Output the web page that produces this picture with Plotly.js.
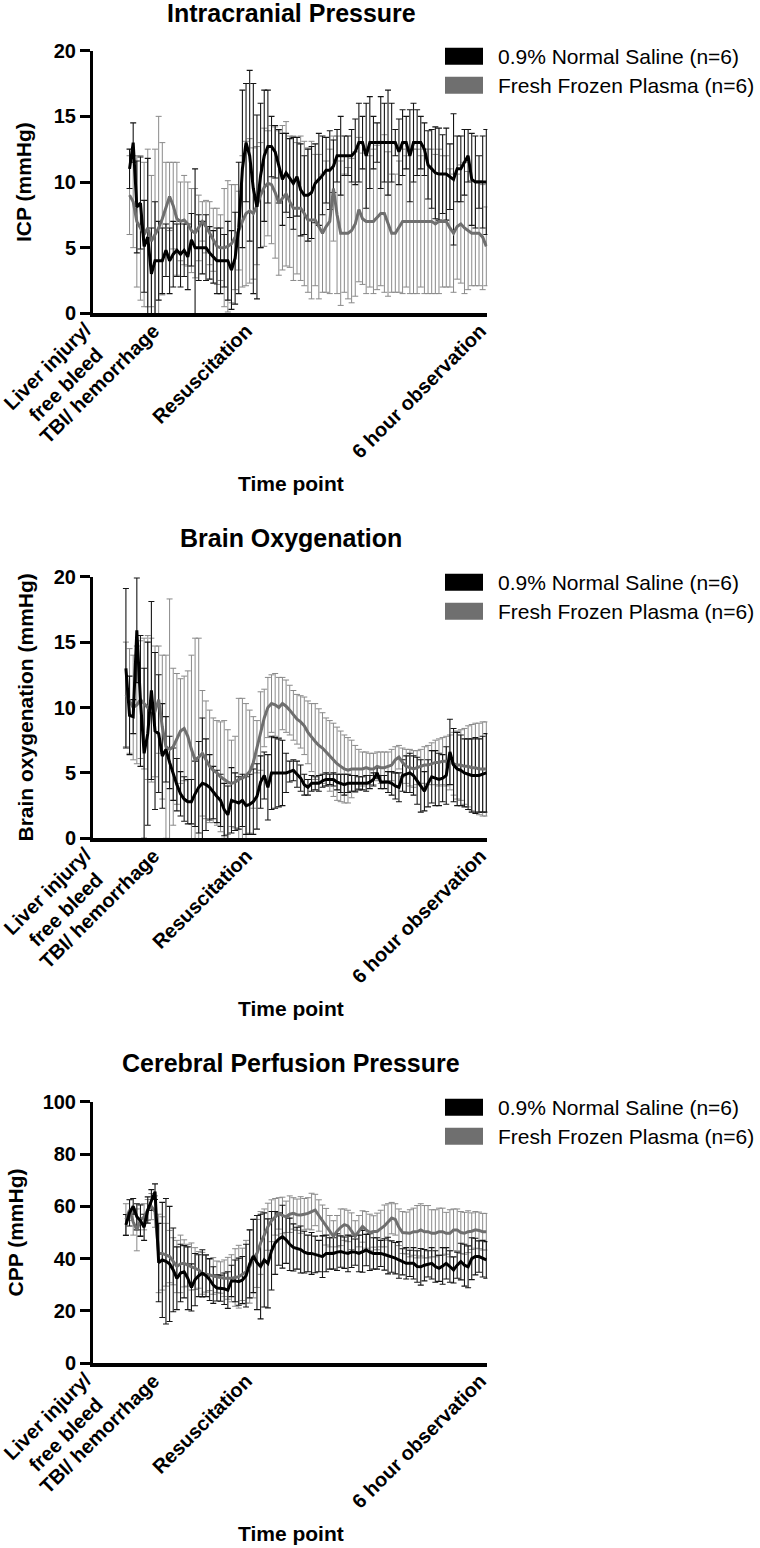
<!DOCTYPE html>
<html>
<head>
<meta charset="utf-8">
<script src="https://cdn.plot.ly/plotly-3.0.1.min.js"></script>
<style>body{margin:0;background:#fff}</style>
</head>
<body>
<div id="chart" style="width:760px;height:1548px"></div>
<script>
// time point index (one sample per step)
var timeIdx = [0,1,2,3,4,5,6,7,8,9,10,11,12,13,14,15,16,17,18,19,20,21,22,23,24,25,26,27,28,29,
  30,31,32,33,34,35,36,37,38,39,40,41,42,43,44,45,46,47,48,49,50,51,52,53,54,55,56,57,58,59,
  60,61,62,63,64,65,66,67,68,69,70,71,72,73,74,75,76,77,78,79,80,81,82,83,84,85,86,87,88,89,
  90,91,92,93,94,95,96,97,98,99];

var tickPos = [-8, 9.5, 35, 99.3];
var tickLabels = ['Liver injury/<br>free bleed', 'TBI/ hemorrhage', 'Resuscitation', '6 hour observation'];
var seriesNames = ['0.9% Normal Saline (n=6)', 'Fresh Frozen Plasma (n=6)'];

// Intracranial pressure (mmHg)
var icpNsMean = [null,11,13,8.1,8.4,5.1,5.8,3.0,4.0,4.0,4.0,4.8,4.0,4.5,4.8,4.5,4.8,4.3,5.6,5.0,
  5.0,5.0,5.0,4.6,4.3,4.0,4.0,4.0,4.0,3.3,4.2,6.5,11,13,12,9.5,8.1,10.5,12,12.7,
  12.7,12.3,11.2,10.2,10.7,10.3,9.9,10.4,9.4,9.0,9.0,9.2,9.9,10.2,10.5,10.9,10.9,11.2,12,12,
  12,12,12,12.3,13,13,12,13,13,13,13,13,13,13,13,12.3,13,13,12,13,
  13,13,12.5,11.3,11,10.7,10.6,10.6,10.6,10.4,10.2,11,11,11.5,12,10.2,10,10,10,10];
var icpNsSd = [null,1.5,1.5,3.5,3.5,3.5,6,3.5,4.5,3.0,2.5,2.0,2.5,2.5,2.0,2.5,2.0,2.5,2.0,6.0,
  2.5,2.0,2.5,2.0,2.0,2.5,2.5,2.0,3.0,3.0,3.5,5.0,6.0,4.5,6.5,8.0,7.0,5.5,5.0,4.3,
  2.3,2.0,2.8,3.5,3.0,3.0,3.5,3.0,3.5,3.0,3.5,3.5,3.0,3.5,3.0,2.5,3.0,2.0,2.0,3.0,
  1.5,1.5,2.0,2.5,3.0,2.0,4.0,3.5,2.0,1.5,3.5,3.0,4.0,3.0,1.0,2.5,2.5,2.0,3.5,3.0,
  2.5,2.0,2.0,2.6,3.0,3.5,3.5,3.0,3.5,2.5,5.0,2.5,2.5,2.5,2.0,3.5,3.5,2.0,3.5,4.0];
var icpFfpMean = [null,9.0,8.5,7.0,6.5,6.0,6.5,5.5,6.0,6.5,7.2,8.0,8.9,8.2,7.2,7.0,7.1,6.8,6.3,6.1,
  6.5,7.0,6.6,6.1,5.6,5.1,5.0,5.0,5.1,5.3,5.8,6.3,7.0,7.6,7.8,7.6,8.2,9.0,9.6,9.9,
  9.8,9.2,8.4,8.8,9.1,8.5,8.0,8.0,8.0,7.6,7.1,7.1,7.1,6.6,6.1,6.6,7.0,9.5,7.5,6.1,
  6.1,6.1,6.3,6.8,7.9,7.2,7.0,7.0,7.0,7.3,7.6,7.6,6.8,6.1,6.1,6.6,7.0,7.0,7.0,7.0,
  7.0,7.0,7.0,7.0,7.0,6.8,7.0,7.0,7.0,6.5,6.1,6.6,6.8,6.5,6.3,6.1,6.1,6.1,5.8,5.1];
var icpFfpSd = [null,3.0,3.5,5.0,5.5,5.5,6.0,5.0,6.5,8.5,5.8,3.5,2.6,3.3,4.3,3.0,3.4,3.2,3.2,3.4,
  2.5,1.5,2.0,2.4,2.4,2.9,2.5,4.5,5.0,4.5,4.0,3.0,5.0,5.5,5.5,5.0,4.5,4.0,4.5,4.0,
  4.5,5.0,5.5,5.5,5.5,5.0,5.5,5.0,5.5,5.5,5.5,6.0,5.0,5.5,4.5,5.0,5.5,4.0,6.0,5.5,
  4.5,5.0,5.5,5.5,5.5,5.0,5.5,5.0,5.5,5.5,5.5,6.0,5.5,4.5,4.5,5.0,5.5,5.0,5.5,5.5,
  5.5,5.0,5.5,5.5,5.5,5.3,5.5,5.0,5.0,4.5,4.5,4.0,4.5,5.0,4.5,4.0,4.0,4.0,4.0,3.0];

// Brain oxygenation (mmHg)
var boNsMean = [13.0,9.4,9.3,15.9,10.5,6.5,8.0,11.3,8.2,8.0,6.3,6.8,5.8,4.9,4.1,3.4,3.0,2.8,2.8,3.4,
  3.9,4.2,4.1,3.9,3.5,3.2,2.9,2.2,1.8,2.9,2.8,2.7,2.9,2.5,2.6,2.8,3.2,4.3,4.8,3.9,
  5.0,5.0,5.0,5.0,5.0,5.1,5.2,4.9,4.6,4.1,3.9,4.2,4.2,4.2,4.4,4.5,4.5,4.5,4.3,4.2,
  4.1,4.2,4.2,4.2,4.2,4.2,4.2,4.3,4.5,5.0,4.3,4.3,4.3,4.2,4.0,3.9,4.8,4.9,5.0,4.8,
  4.4,4.0,3.6,4.2,4.7,4.6,4.5,4.6,4.8,6.6,5.6,5.3,5.2,5.0,4.9,4.8,4.8,4.8,4.9,5.0];
var boNsSd = [6.1,3.0,1.3,4.0,5.0,6.5,7.0,6.8,6.0,4.5,4.0,2.5,2.0,2.0,2.0,1.7,1.7,1.7,1.7,2.5,
  3.5,5.0,3.5,2.5,2.0,2.0,2.0,2.0,2.2,2.5,2.2,2.0,2.0,2.2,2.3,2.5,2.5,2.0,1.8,2.5,
  2.8,2.7,2.6,2.5,1.5,0.8,0.8,1.0,1.0,0.8,0.6,0.6,0.5,0.6,0.5,0.5,0.4,0.5,0.6,0.7,
  0.8,0.7,0.6,0.6,0.5,0.5,0.6,0.5,0.5,0.4,0.5,0.5,0.8,0.9,1.0,1.1,1.2,1.4,1.5,1.5,
  1.8,2.0,1.5,1.8,2.0,2.1,2.0,1.8,2.2,2.5,2.8,2.8,2.7,2.6,2.7,2.8,2.9,2.8,2.9,3.0];
var boFfpMean = [11.0,10.5,10.0,10.2,10.6,10.3,10.0,9.8,9.7,10.6,8.5,7.0,6.8,7.0,7.6,8.2,8.4,7.8,6.8,6.0,
  6.2,6.5,6.0,5.5,5.2,5.0,4.7,4.5,4.3,4.2,4.3,4.5,4.6,4.8,5.1,5.8,7.0,8.2,9.2,10.0,
  10.3,10.2,10.0,10.3,10.1,9.8,9.4,9.1,8.9,8.6,8.1,7.7,7.4,7.1,6.9,6.6,6.3,6.0,5.7,5.5,
  5.3,5.2,5.3,5.3,5.3,5.3,5.4,5.3,5.3,5.5,5.4,5.4,5.5,5.6,6.0,6.2,5.8,5.5,5.4,5.3,
  5.4,5.5,5.6,5.6,5.7,5.8,5.8,5.9,5.9,5.8,5.7,5.6,5.6,5.5,5.5,5.4,5.4,5.3,5.3,5.3];
var boFfpSd = [4.0,4.0,4.0,4.5,4.5,5.0,5.5,5.5,5.0,4.1,5.5,7.0,11.5,6.0,5.0,4.0,4.0,5.0,7.2,9.3,
  9.1,4.8,4.5,4.3,4.0,4.0,4.2,4.5,4.0,3.3,3.5,6.2,6.1,5.5,4.7,3.5,2.0,3.0,2.2,2.3,
  2.2,2.4,2.3,2.0,2.0,1.9,1.9,1.9,2.0,2.2,2.4,2.6,2.9,2.8,2.7,2.6,2.7,2.8,2.8,2.7,
  2.6,2.5,2.2,1.8,1.5,1.3,1.2,1.2,1.2,1.1,1.2,1.2,1.1,1.2,1.0,0.9,1.1,1.3,1.4,1.4,
  1.3,1.3,1.4,1.5,1.6,1.7,1.8,1.8,1.9,2.1,2.4,2.6,2.7,2.9,3.1,3.3,3.4,3.5,3.6,3.6];

// Cerebral perfusion pressure (mmHg)
var cppNsMean = [52.9,57.5,60.0,56.0,54.5,52.0,58.6,62.4,65.6,38.5,39.5,39.0,38.0,35.7,32.5,34.5,35.0,32.5,29.0,32.0,
  33.5,34.4,33.5,32.0,29.9,28.8,28.7,28.5,28.0,31.5,31.5,31.2,31.8,33.5,38.0,41.0,38.5,37.0,39.5,38.2,
  43.0,46.0,47.5,48.4,47.2,45.5,44.3,44.0,43.5,42.5,42.0,42.0,41.6,41.0,40.8,42.0,42.0,42.0,42.5,42.7,
  42.3,42.0,42.6,42.5,42.0,42.8,43.3,42.5,42.0,42.0,42.0,41.6,41.2,40.8,40.2,39.5,38.8,38.2,38.2,38.2,
  37.0,36.9,37.5,38.0,38.2,37.0,36.3,37.2,38.2,37.0,35.7,37.5,38.9,37.5,36.9,40.0,40.8,40.8,40.0,39.5];
var cppNsSd = [4,5,3,5,6,5,5,4,3,15,22,24,22,16,12,11,10,12,9,10,
  8,9,8,8,7,5,5,6,7,6,8,9,9,12,13,14,18,20,18,17,
  15,12,10,12,9,10,9,8,9,8,7,8,7,6,8,7,6,6,7,6,
  6,7,6,5,7,8,6,7,6,6,5,6,7,6,6,7,5,6,5,6,
  6,7,6,5,6,6,5,7,6,6,5,5,7,8,8,8,7,6,7,7];
var cppFfpMean = [55.0,58.6,54.0,51.0,54.8,56.0,58.6,59.9,58.0,42.0,42.0,41.5,40.8,39.0,37.0,38.0,38.2,37.5,37.0,36.2,
  35.7,34.4,34.2,33.8,33.4,33.1,32.8,32.5,32.5,32.5,32.8,33.1,34.0,35.0,37.0,40.0,42.0,46.0,49.0,52.2,
  54.5,56.0,57.3,56.5,56.0,57.0,57.3,56.8,56.7,57.0,57.3,58.0,58.6,56.5,54.5,52.2,50.5,48.5,50.5,52.0,
  53.0,52.5,50.5,48.5,50.5,52.3,51.0,50.0,50.4,50.4,51.5,52.5,54.0,55.5,55.0,52.0,50.0,49.8,49.7,50.3,
  50.3,51.0,50.3,50.3,49.7,49.7,50.3,50.3,49.7,49.7,51.0,51.0,50.0,49.7,50.3,50.5,51.0,50.8,50.3,50.3];
var cppFfpSd = [6,4,5,8,6,5,4,5,6,15,14,12,10,9,10,11,9,8,9,8,
  7,8,7,6,7,6,6,7,8,9,11,12,10,12,14,15,13,12,10,9,
  8,7,6,7,6,7,6,6,7,6,6,7,6,6,6,7,6,6,6,7,
  6,6,7,6,6,6,7,7,6,7,7,8,7,6,6,7,8,8,9,9,
  10,10,10,10,9,9,9,9,8,9,8,8,8,8,8,7,7,7,7,7];

var W = 760, H = 1548;
function fx(p) { return p / W; }
function fy(p) { return 1 - p / H; }

var FONT = 'Liberation Sans, Arial, Helvetica, sans-serif';
var NS_COLOR = '#000000', FFP_COLOR = '#6f6f6f';
var boldFont = function (s) { return {family: FONT, size: s, weight: 'bold', color: '#000'}; };

var panels = [
  {title: 'Intracranial Pressure', ytitle: 'ICP (mmHg)', top: 50.7, bottom: 313.3, titleY: 13, ytitleX: 23,
   ymax: 20, yticks: [0, 5, 10, 15, 20],
   ns: icpNsMean, nsSd: icpNsSd, ffp: icpFfpMean, ffpSd: icpFfpSd},
  {title: 'Brain Oxygenation', ytitle: 'Brain oxygenation (mmHg)', top: 576.7, bottom: 838.3, titleY: 538, ytitleX: 25,
   ymax: 20, yticks: [0, 5, 10, 15, 20],
   ns: boNsMean, nsSd: boNsSd, ffp: boFfpMean, ffpSd: boFfpSd},
  {title: 'Cerebral Perfusion Pressure', ytitle: 'CPP (mmHg)', top: 1101.7, bottom: 1363.3, titleY: 1063, ytitleX: 15,
   ymax: 100, yticks: [0, 20, 40, 60, 80, 100],
   ns: cppNsMean, nsSd: cppNsSd, ffp: cppFfpMean, ffpSd: cppFfpSd}
];

var data = [];
var layout = {
  width: W, height: H,
  margin: {l: 0, r: 0, t: 0, b: 0},
  paper_bgcolor: '#fff', plot_bgcolor: '#fff',
  showlegend: false,
  font: {family: FONT, color: '#000'},
  annotations: [], shapes: []
};

panels.forEach(function (p, k) {
  var n = k === 0 ? '' : String(k + 1);
  var xa = 'x' + n, ya = 'y' + n;

  // error bars first (gray under black), mean lines on top
  data.push({x: timeIdx, y: p.ffp, xaxis: xa, yaxis: ya, type: 'scatter', mode: 'markers',
    marker: {size: 1, color: 'rgba(0,0,0,0)'}, hoverinfo: 'skip',
    error_y: {type: 'data', array: p.ffpSd, visible: true, color: '#8a8a8a', thickness: 1, width: 3}});
  data.push({x: timeIdx, y: p.ns, xaxis: xa, yaxis: ya, type: 'scatter', mode: 'markers',
    marker: {size: 1, color: 'rgba(0,0,0,0)'}, hoverinfo: 'skip',
    error_y: {type: 'data', array: p.nsSd, visible: true, color: '#151515', thickness: 1.1, width: 3}});
  data.push({x: timeIdx, y: p.ffp, xaxis: xa, yaxis: ya, type: 'scatter', mode: 'lines',
    name: seriesNames[1], line: {color: FFP_COLOR, width: 3}});
  data.push({x: timeIdx, y: p.ns, xaxis: xa, yaxis: ya, type: 'scatter', mode: 'lines',
    name: seriesNames[0], line: {color: NS_COLOR, width: 3}});

  // the two-line first label is centred like the original, so it is placed as an annotation
  layout['xaxis' + n] = {
    domain: [fx(93), fx(487.4)], range: [-9.04, 99.3], anchor: ya,
    showline: true, linecolor: '#000', linewidth: 4, ticks: '', showgrid: false, zeroline: false,
    tickmode: 'array', tickvals: tickPos.slice(1), ticktext: tickLabels.slice(1), tickangle: -45,
    ticklabelshift: -7, ticklabelstandoff: -6,
    tickfont: boldFont(20)
  };
  layout['yaxis' + n] = {
    domain: [fy(p.bottom), fy(p.top)], range: [0, p.ymax], anchor: xa,
    showline: true, linecolor: '#000', linewidth: 3, ticks: 'outside', ticklen: 10, tickwidth: 3,
    tickcolor: '#000', showgrid: false, zeroline: false,
    tickmode: 'array', tickvals: p.yticks,
    tickfont: boldFont(20)
  };

  layout.annotations.push({xref: 'paper', yref: 'paper', x: fx(57), y: fy(p.bottom + 62),
    text: tickLabels[0], textangle: -45, align: 'center', showarrow: false,
    xanchor: 'center', yanchor: 'middle', font: boldFont(20)});

  // chart title, axis titles
  layout.annotations.push({xref: 'paper', yref: 'paper', x: fx(291), y: fy(p.titleY),
    text: p.title, showarrow: false, xanchor: 'center', yanchor: 'middle', font: boldFont(25)});
  layout.annotations.push({xref: 'paper', yref: 'paper', x: fx(291), y: fy(p.bottom + 170),
    text: 'Time point', showarrow: false, xanchor: 'center', yanchor: 'middle', font: boldFont(21)});
  layout.annotations.push({xref: 'paper', yref: 'paper', x: fx(p.ytitleX), y: fy((p.top + p.bottom) / 2),
    text: p.ytitle, textangle: -90, showarrow: false, xanchor: 'center', yanchor: 'middle', font: boldFont(21)});

  // legend: filled swatches with labels
  [NS_COLOR, FFP_COLOR].forEach(function (c, j) {
    var y0 = p.top - 3 + j * 29;
    layout.shapes.push({type: 'rect', xref: 'paper', yref: 'paper',
      x0: fx(445), x1: fx(483), y0: fy(y0 + 17), y1: fy(y0), fillcolor: c, line: {width: 0}});
    layout.annotations.push({xref: 'paper', yref: 'paper', x: fx(496), y: fy(y0 + 8.5),
      text: seriesNames[j], showarrow: false, xanchor: 'left', yanchor: 'middle',
      font: {family: FONT, size: 21, color: '#000'}});
  });
});

Plotly.newPlot('chart', data, layout, {staticPlot: true});
</script>
</body>
</html>
